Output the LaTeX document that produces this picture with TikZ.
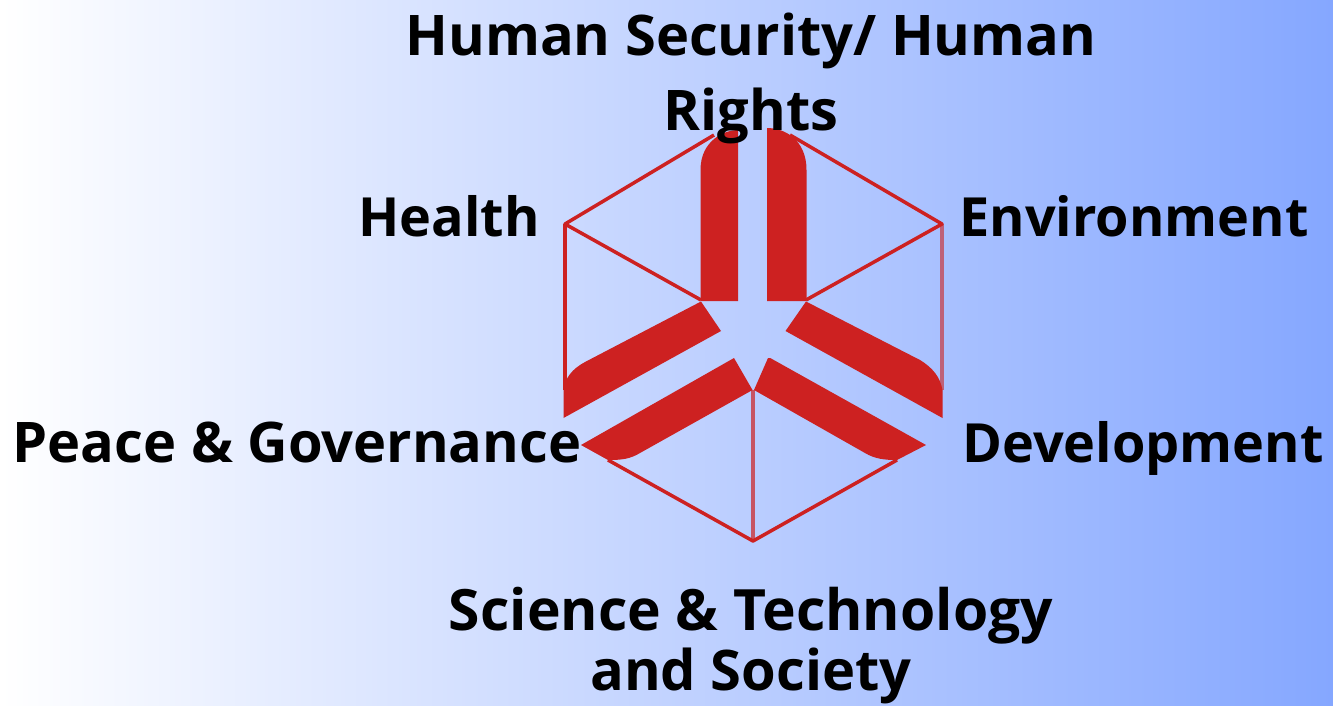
\documentclass[tikz,border=0pt]{standalone}
\usepackage{fontspec}
\setmainfont{Open Sans}
\usepackage{xcolor}
\definecolor{logored}{RGB}{205,33,33}
\definecolor{lightblue}{RGB}{133,167,255}
\definecolor{midblue}{RGB}{214,225,253}
\tikzset {
  x=1pt, y=-1pt,
  % blue page background
  page/.style = {left color=white, middle color=midblue, right color=lightblue, draw=none},
  % thin lines of the hexagon
  rim/.style = {logored, line width=3.5pt, line join=round},
  % the six thick bars
  bar/.style = {fill=logored, draw=none},
  % the labels
  label/.style = {font=\bfseries\fontsize{56}{66}\selectfont, text=black, inner sep=0pt, anchor=base},
  narrow/.style = {label, font=\bfseries\fontsize{54}{66}\selectfont},
}
\begin{document}
\begin{tikzpicture}
  \useasboundingbox (0,0) rectangle (1333,705);
  \fill[page] (0,0) rectangle (1333,705);

  \coordinate (topl) at (714,135);
  \coordinate (topr) at (790,135);
  \coordinate (nw) at (565,224);
  \coordinate (ne) at (942,224);
  \coordinate (sw) at (565,390);
  \coordinate (se) at (942,390);
  \coordinate (innerl) at (701,300);
  \coordinate (innerr) at (806,300);
  \coordinate (centre) at (753,390);
  \coordinate (bottom) at (753,541);
  \coordinate (lowl) at (608,460);
  \coordinate (lowr) at (897,460);

  % hexagon
  \draw[rim] (topl) -- (nw) -- (innerl);
  \draw[rim] (topr) -- (ne) -- (innerr);
  \draw[rim] (nw) -- (sw);
  \draw[rim, opacity=.6] (ne) -- (se);
  \draw[rim] (lowl) -- (bottom) -- (lowr);
  \draw[rim, opacity=.7] (centre) -- (bottom);

  % bars
  \fill[bar] (700.5,301) -- (738,301) -- (738,130) .. controls (725,130) and (700.5,140) .. (700.5,170) -- cycle;
  \fill[bar] (806.5,301) -- (767,301) -- (767,128) .. controls (785,128) and (806.5,140) .. (806.5,170) -- cycle;
  \fill[bar] (701,301.5) -- (721,331) -- (563.5,418) -- (563.5,390) .. controls (565,378) and (572,369) .. (585,362) -- cycle;
  \fill[bar] (806,301.5) -- (785.5,331) -- (942.5,418) -- (942.5,390) .. controls (940,377) and (933,368) .. (920,360) -- cycle;
  \fill[bar] (734,358) -- (752.5,390) -- (640,453) .. controls (630,459) and (622,460) .. (608,460) -- (581,445) -- cycle;
  \fill[bar] (768,358) .. controls (770,358) and (771,358) .. (772,359) -- (926,445) -- (897,460) .. controls (885,460) and (875,459) .. (865,453) -- (754,390) -- cycle;

  % labels
  \node[label] (security) at (751,55) {Human Security/ Human};
  \node[label] (rights) at (751,130) {Rights};
  \node[narrow] (health) at (449,236) {Health};
  \node[narrow] (environment) at (1134,236) {Environment};
  \node[label] (peace) at (297,462) {Peace \& Governance};
  \node[narrow] (development) at (1143,462) {Development};
  \node[label, font=\bfseries\fontsize{57}{66}\selectfont] (science) at (751,630) {Science \& Technology};
  \node[label] (society) at (751,690.5) {and Society};
\end{tikzpicture}
\end{document}
